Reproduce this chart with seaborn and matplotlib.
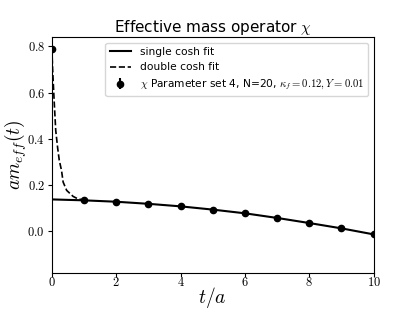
import matplotlib
matplotlib.use("Agg")
import matplotlib.pyplot as plt
import seaborn as sns
import pandas as pd
import numpy as np
from matplotlib.ticker import FuncFormatter

# lattice data (effective mass per timeslice)
t_data = [0, 1, 2, 3, 4, 5, 6, 7, 8, 9, 10]
m_data = [0.790, 0.134, 0.127, 0.118, 0.108, 0.094, 0.079, 0.058, 0.037, 0.013, -0.012]
m_err = [0.012, 0.004, 0.003, 0.003, 0.003, 0.003, 0.003, 0.003, 0.003, 0.003, 0.004]

# single cosh fit curve
t_single = [0, 1, 2, 3, 4, 5, 6, 7, 8, 9, 10]
m_single = [0.138, 0.134, 0.128, 0.119, 0.108, 0.094, 0.078, 0.058, 0.036, 0.013, -0.013]

# double cosh fit curve
t_double = [0.0, 0.02, 0.07, 0.12, 0.18, 0.23, 0.30, 0.35, 0.46, 0.66, 0.80, 1.0]
m_double = [0.790, 0.710, 0.566, 0.436, 0.360, 0.307, 0.263, 0.213, 0.177, 0.151, 0.141, 0.135]

plt.rcParams["mathtext.fontset"] = "cm"

fig, ax = plt.subplots(figsize=(4.15, 3.12), dpi=100)

sns.lineplot(x=t_single, y=m_single, ax=ax, color="black", lw=1.5,
             label="single cosh fit")
sns.lineplot(x=t_double, y=m_double, ax=ax, color="black", lw=1.2, ls="--",
             label="double cosh fit")
ax.errorbar(t_data, m_data, yerr=m_err, fmt="o", color="black", ms=4.5,
            label=r"$\chi$ Parameter set 4, N=20, $\kappa_f = 0.12, Y = 0.01$")

ax.set_xlim(0, 10)
ax.set_ylim(-0.18, 0.838)
ax.set_xticks([0, 2, 4, 6, 8, 10])
ax.set_yticks([0.0, 0.2, 0.4, 0.6, 0.8])
ax.xaxis.set_major_formatter(FuncFormatter(lambda v, p: f"${v:.0f}$"))
ax.yaxis.set_major_formatter(FuncFormatter(lambda v, p: f"${v:.1f}$"))
ax.tick_params(labelsize=9, length=3)
ax.tick_params(axis="x", pad=-0.5)
ax.tick_params(axis="y", pad=2)

ax.set_xlabel(r"$t/a$", fontsize=14, labelpad=-3)
ax.set_ylabel(r"$am_{eff}(t)$", fontsize=14, labelpad=-1)
ax.set_title(r"Effective mass operator $\chi$", fontsize=11, pad=4)
ax.legend(loc="upper right", fontsize=7.7)

fig.subplots_adjust(left=0.125, right=0.9, top=0.88, bottom=0.125)
fig.savefig("out.png", dpi=100)
